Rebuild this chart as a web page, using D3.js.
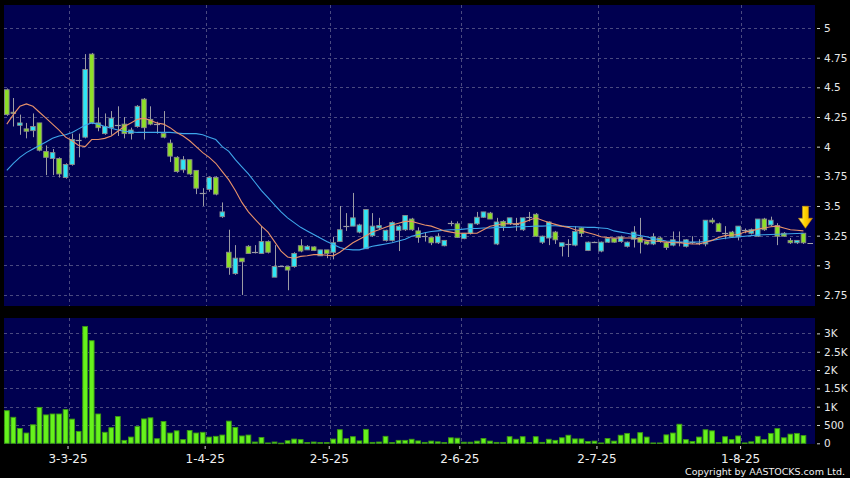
<!DOCTYPE html>
<html><head><meta charset="utf-8">
<script src="https://cdn.jsdelivr.net/npm/d3@7"></script>
<style>html,body{margin:0;padding:0;background:#000;} svg{display:block;}</style>
</head><body><svg id="c" width="850" height="478"></svg>
<script>
// ---- data ----
const opens  = [4.48,4.29,4.18,4.15,4.135,4.20,3.96,3.90,3.90,3.74,3.85,4.06,4.08,4.78,4.20,4.11,4.16,4.18,4.19,4.11,
4.17,4.40,4.23,4.19,4.11,4.03,3.91,3.805,3.89,3.80,3.61,3.64,3.74,3.41,3.11,2.93,3.06,3.16,3.11,3.10,
3.20,2.90,2.99,2.99,2.99,3.165,3.13,3.155,3.08,3.13,3.11,3.20,3.335,3.33,3.28,3.14,3.25,3.315,3.21,3.21,
3.295,3.30,3.39,3.29,3.25,3.235,3.19,3.165,3.355,3.35,3.225,3.27,3.35,3.405,3.44,3.18,3.37,3.35,3.345,3.30,
3.41,3.43,3.195,3.23,3.28,3.16,3.18,3.17,3.315,3.125,3.195,3.12,3.195,3.225,3.20,3.16,3.22,3.235,3.20,3.18,
3.23,3.19,3.17,3.20,3.16,3.20,3.19,3.18,3.38,3.35,3.27,3.28,3.24,3.295,3.27,3.245,3.39,3.34,3.335,3.27,
3.21,3.19,3.27];
const highs  = [4.49,4.41,4.27,4.20,4.28,4.20,4.01,3.98,3.91,3.86,4.11,4.11,4.78,4.79,4.33,4.28,4.30,4.34,4.25,4.16,
4.35,4.41,4.34,4.21,4.30,4.06,3.92,3.92,3.89,3.80,3.65,3.75,3.75,3.53,3.30,3.17,3.06,3.17,3.17,3.33,
3.21,3.17,2.99,2.99,3.11,3.22,3.17,3.16,3.13,3.13,3.24,3.50,3.44,3.61,3.35,3.47,3.44,3.40,3.30,3.37,
3.34,3.42,3.40,3.32,3.28,3.24,3.27,3.21,3.375,3.37,3.27,3.35,3.45,3.45,3.45,3.40,3.38,3.40,3.40,3.40,
3.45,3.44,3.25,3.37,3.29,3.19,3.22,3.33,3.32,3.20,3.20,3.20,3.23,3.23,3.25,3.20,3.33,3.40,3.21,3.27,
3.24,3.20,3.285,3.285,3.22,3.245,3.22,3.38,3.40,3.36,3.33,3.29,3.33,3.31,3.31,3.39,3.40,3.41,3.355,3.28,
3.23,3.21,3.27];
const lows   = [4.26,4.17,4.10,4.07,4.08,3.96,3.76,3.76,3.74,3.73,3.84,3.91,4.07,4.19,4.13,4.10,4.10,4.09,4.07,4.06,
4.16,4.06,4.18,4.11,4.07,3.87,3.78,3.78,3.76,3.60,3.50,3.62,3.59,3.40,2.92,2.92,2.75,3.10,3.10,3.10,
3.10,2.90,2.99,2.79,2.98,3.11,3.13,3.12,3.08,3.06,3.05,3.20,3.29,3.33,3.27,3.14,3.24,3.30,3.20,3.20,
3.12,3.29,3.29,3.19,3.20,3.17,3.18,3.16,3.33,3.23,3.22,3.26,3.34,3.40,3.39,3.17,3.29,3.34,3.29,3.29,
3.37,3.24,3.18,3.17,3.18,3.075,3.07,3.16,3.24,3.12,3.19,3.11,3.19,3.19,3.19,3.15,3.15,3.10,3.17,3.17,
3.19,3.13,3.16,3.16,3.15,3.18,3.17,3.16,3.35,3.28,3.22,3.23,3.21,3.27,3.26,3.24,3.29,3.33,3.17,3.24,
3.18,3.18,3.18];
const closes = [4.27,4.28,4.20,4.13,4.17,3.97,3.91,3.95,3.77,3.85,4.06,4.06,4.65,4.20,4.16,4.17,4.24,4.18,4.11,4.14,
4.34,4.16,4.19,4.19,4.08,3.92,3.79,3.89,3.77,3.65,3.61,3.74,3.60,3.45,2.98,3.06,3.03,3.10,3.11,3.20,
3.11,2.99,2.99,2.96,3.10,3.12,3.16,3.125,3.13,3.10,3.19,3.30,3.335,3.40,3.34,3.47,3.33,3.335,3.295,3.36,
3.33,3.42,3.30,3.235,3.25,3.19,3.245,3.21,3.355,3.235,3.27,3.35,3.405,3.45,3.39,3.365,3.33,3.40,3.345,3.40,
3.41,3.245,3.245,3.365,3.215,3.19,3.18,3.285,3.27,3.195,3.195,3.195,3.225,3.195,3.24,3.195,3.28,3.195,3.18,3.24,
3.20,3.15,3.215,3.20,3.215,3.20,3.19,3.38,3.365,3.285,3.27,3.24,3.33,3.295,3.30,3.39,3.30,3.38,3.245,3.245,
3.19,3.21,3.19];
const volumes = [890,710,405,280,505,980,775,800,800,920,660,325,3190,2800,800,300,425,730,80,170,
460,665,695,125,595,280,340,100,350,280,300,170,190,225,605,430,200,225,35,160,
10,35,5,70,115,100,20,35,20,20,115,370,125,180,65,380,25,35,190,20,
80,80,110,65,25,60,40,20,150,140,30,30,60,130,60,25,25,180,110,180,
20,180,25,110,80,150,220,120,120,50,60,10,130,60,220,270,120,290,170,10,
10,230,280,520,100,50,170,370,340,20,180,100,200,10,40,190,100,270,400,150,
250,270,210];
const maShort = [4.19,4.27,4.34,4.36,4.34,4.29,4.24,4.19,4.14,4.08,4.05,4.01,4.00,4.06,4.06,4.07,4.09,4.13,4.17,4.20,
4.23,4.24,4.22,4.20,4.19,4.16,4.12,4.09,4.05,4.00,3.95,3.91,3.86,3.79,3.72,3.63,3.53,3.45,3.39,3.33,
3.28,3.20,3.12,3.07,3.06,3.075,3.08,3.09,3.09,3.085,3.08,3.11,3.15,3.19,3.22,3.25,3.28,3.30,3.32,3.34,
3.355,3.37,3.37,3.355,3.34,3.33,3.31,3.29,3.28,3.27,3.27,3.27,3.27,3.30,3.33,3.34,3.35,3.35,3.35,3.36,
3.38,3.40,3.38,3.36,3.345,3.33,3.32,3.30,3.29,3.275,3.26,3.24,3.235,3.23,3.23,3.23,3.23,3.22,3.21,3.205,
3.20,3.195,3.19,3.19,3.185,3.18,3.18,3.195,3.21,3.235,3.25,3.255,3.26,3.28,3.29,3.305,3.315,3.325,3.33,3.315,
3.30,3.295,3.29];
const maLong = [3.80,3.86,3.91,3.95,3.98,4.01,4.04,4.07,4.09,4.10,4.12,4.15,4.18,4.20,4.19,4.17,4.155,4.14,4.13,4.125,
4.12,4.12,4.12,4.12,4.12,4.12,4.115,4.11,4.11,4.11,4.10,4.08,4.06,4.00,3.96,3.89,3.83,3.77,3.70,3.63,
3.57,3.51,3.45,3.40,3.36,3.32,3.29,3.26,3.23,3.20,3.175,3.15,3.135,3.13,3.13,3.145,3.16,3.17,3.18,3.19,
3.205,3.22,3.245,3.26,3.275,3.285,3.29,3.295,3.30,3.30,3.305,3.31,3.31,3.315,3.315,3.32,3.32,3.32,3.325,3.325,
3.327,3.33,3.33,3.333,3.333,3.33,3.327,3.325,3.323,3.32,3.32,3.315,3.31,3.29,3.28,3.27,3.26,3.25,3.24,3.225,
3.215,3.205,3.20,3.197,3.196,3.196,3.196,3.20,3.21,3.22,3.228,3.235,3.24,3.245,3.25,3.255,3.258,3.26,3.262,3.264,
3.266,3.268,3.27];
const tickLabels = ["3-3-25","1-4-25","2-5-25","2-6-25","2-7-25","1-8-25"];
const tickIndex  = [9,30,49,69,90,112];
const priceTicks = [2.75,3,3.25,3.5,3.75,4,4.25,4.5,4.75,5];
const volTicks   = [0,500,1000,1500,2000,2500,3000];
const volTickLabels = ["0","500","1K","1.5K","2K","2.5K","3K"];
const copyright = "Copyright by AASTOCKS.com Ltd.";

// ---- layout ----
const L = 4, R = 815, PT = 5, PB = 306, VT = 318, VB = 444;
const svg = d3.select("#c");
const n = closes.length;
const x = d3.scaleLinear().domain([-0.43, 123.77]).range([L, R]);
const yP = d3.scaleLinear().domain([2.657, 5.194]).range([PB, PT]);
const yV = d3.scaleLinear().domain([0, 3420]).range([443.3, VT]);
const C_UP = "#2ee6f6", C_DN = "#8ee027", C_WICK = "#9c9ca4", C_EDGE = "#8a8a8a";
const GRID = "#4a4a80";

svg.append("rect").attr("width",850).attr("height",478).attr("fill","#000");
svg.append("rect").attr("x",L).attr("y",PT).attr("width",R-L).attr("height",PB-PT).attr("fill","#000050");
svg.append("rect").attr("x",L).attr("y",VT).attr("width",R-L).attr("height",VB-VT).attr("fill","#000050");

const defs = svg.append("defs");
defs.append("clipPath").attr("id","cp").append("rect").attr("x",L).attr("y",PT).attr("width",R-L).attr("height",PB-PT);
const g = defs.append("linearGradient").attr("id","ag").attr("x1","0").attr("x2","1").attr("y1","0").attr("y2","0");
g.append("stop").attr("offset","0%").attr("stop-color","#fff38a");
g.append("stop").attr("offset","45%").attr("stop-color","#ffd400");
g.append("stop").attr("offset","100%").attr("stop-color","#f0a000");

// grid - horizontal
svg.append("g").selectAll("line").data(priceTicks).join("line")
  .attr("x1",L).attr("x2",R-2).attr("y1",d=>Math.round(yP(d))+0.5).attr("y2",d=>Math.round(yP(d))+0.5)
  .attr("stroke",GRID).attr("stroke-dasharray","3,3");
svg.append("g").selectAll("line").data(volTicks.slice(1)).join("line")
  .attr("x1",L).attr("x2",R-2).attr("y1",d=>Math.round(yV(d))+0.5).attr("y2",d=>Math.round(yV(d))+0.5)
  .attr("stroke",GRID).attr("stroke-dasharray","3,3");
// grid - vertical (at the boundary after the labelled session)
const gx = d => Math.round(x(d+0.5))+0.5;
svg.append("g").selectAll("line").data(tickIndex).join("line")
  .attr("x1",gx).attr("x2",gx).attr("y1",PT).attr("y2",PB)
  .attr("stroke",GRID).attr("stroke-dasharray","3,3");
svg.append("g").selectAll("line").data(tickIndex).join("line")
  .attr("x1",gx).attr("x2",gx).attr("y1",VT).attr("y2",VB)
  .attr("stroke",GRID).attr("stroke-dasharray","3,3");

// y axes (right)
const yAxisP = d3.axisRight(yP).tickValues(priceTicks).tickSize(3).tickPadding(4).tickFormat(d=>String(d));
const ga = svg.append("g").attr("transform",`translate(${R+2},0)`).call(yAxisP);
const yAxisV = d3.axisRight(yV).tickValues(volTicks).tickSize(3).tickPadding(4).tickFormat((d,i)=>volTickLabels[i]);
const gv = svg.append("g").attr("transform",`translate(${R+2},0)`).call(yAxisV);
[ga,gv].forEach(a=>{
  a.select(".domain").remove();
  a.selectAll(".tick line").attr("stroke","#cfcfcf");
  a.selectAll(".tick text").attr("fill","#e8e8e8").attr("font-family","DejaVu Sans").attr("font-size","10.5px");
});

// x axis
const xa = svg.append("g").attr("transform",`translate(0,${VB+2})`)
  .call(d3.axisBottom(x).tickValues(tickIndex.map(d=>d+0.3)).tickSize(3).tickPadding(5).tickFormat((d,i)=>tickLabels[i]));
xa.select(".domain").remove();
xa.selectAll(".tick line").attr("stroke","#d8d8d8");
xa.selectAll(".tick text").attr("fill","#f0f0f0").attr("font-family","DejaVu Sans").attr("font-size","12px");

// volume bars
svg.append("g").selectAll("rect").data(volumes).join("rect")
  .attr("x",(d,i)=>x(i)-2.4).attr("width",4.8)
  .attr("y",d=>yV(d)).attr("height",d=>Math.max(0.6,yV(0)-yV(d)))
  .attr("fill","#66f21c").attr("stroke","#3c9a12").attr("stroke-width",0.9);

// candles
const idx = d3.range(n);
const cg = svg.append("g").attr("clip-path","url(#cp)");
cg.append("g").selectAll("line").data(idx).join("line")
  .attr("x1",i=>Math.round(x(i))+0.5).attr("x2",i=>Math.round(x(i))+0.5)
  .attr("y1",i=>yP(highs[i])).attr("y2",i=>yP(lows[i]))
  .attr("stroke",C_WICK).attr("stroke-width",1);
cg.append("g").selectAll("rect").data(idx.filter(i=>opens[i]!==closes[i])).join("rect")
  .attr("x",i=>x(i)-2.3).attr("width",4.6)
  .attr("y",i=>yP(Math.max(opens[i],closes[i])))
  .attr("height",i=>Math.max(1,Math.abs(yP(opens[i])-yP(closes[i]))))
  .attr("fill",i=>closes[i]>opens[i]?C_UP:C_DN)
  .attr("stroke",C_EDGE).attr("stroke-width",0.9);
cg.append("g").selectAll("line").data(idx.filter(i=>opens[i]===closes[i])).join("line")
  .attr("x1",i=>x(i)-3).attr("x2",i=>x(i)+3)
  .attr("y1",i=>Math.round(yP(closes[i]))+0.5).attr("y2",i=>Math.round(yP(closes[i]))+0.5)
  .attr("stroke",C_WICK).attr("stroke-width",1.2);

// moving averages
const line = arr => d3.line().x((d,i)=>x(i)).y(d=>yP(d))(arr);
cg.append("path").attr("d",line(maLong)).attr("fill","none").attr("stroke","#3ea6ea").attr("stroke-width",1.1);
cg.append("path").attr("d",line(maShort)).attr("fill","none").attr("stroke","#e8926a").attr("stroke-width",1.1);

// last price marker
const last = n-1;
svg.append("line").attr("x1",x(last)+4).attr("x2",R-2)
  .attr("y1",Math.round(yP(closes[last]))+0.5).attr("y2",Math.round(yP(closes[last]))+0.5)
  .attr("stroke","#a8a8a8");

// arrow above last candle
const ax = x(last)+2, ay = yP(highs[last])-5;
svg.append("path")
  .attr("d",`M${ax-3},${ay-22} L${ax+3},${ay-22} L${ax+3},${ay-10} L${ax+7},${ay-10} L${ax},${ay} L${ax-7},${ay-10} L${ax-3},${ay-10} Z`)
  .attr("fill","url(#ag)").attr("stroke","#c88a00").attr("stroke-width",0.6);

// copyright
svg.append("text").attr("x",845).attr("y",475).attr("text-anchor","end")
  .attr("fill","#f0f0f0").attr("font-family","DejaVu Sans").attr("font-size","9.5px").text(copyright);
</script></body></html>
